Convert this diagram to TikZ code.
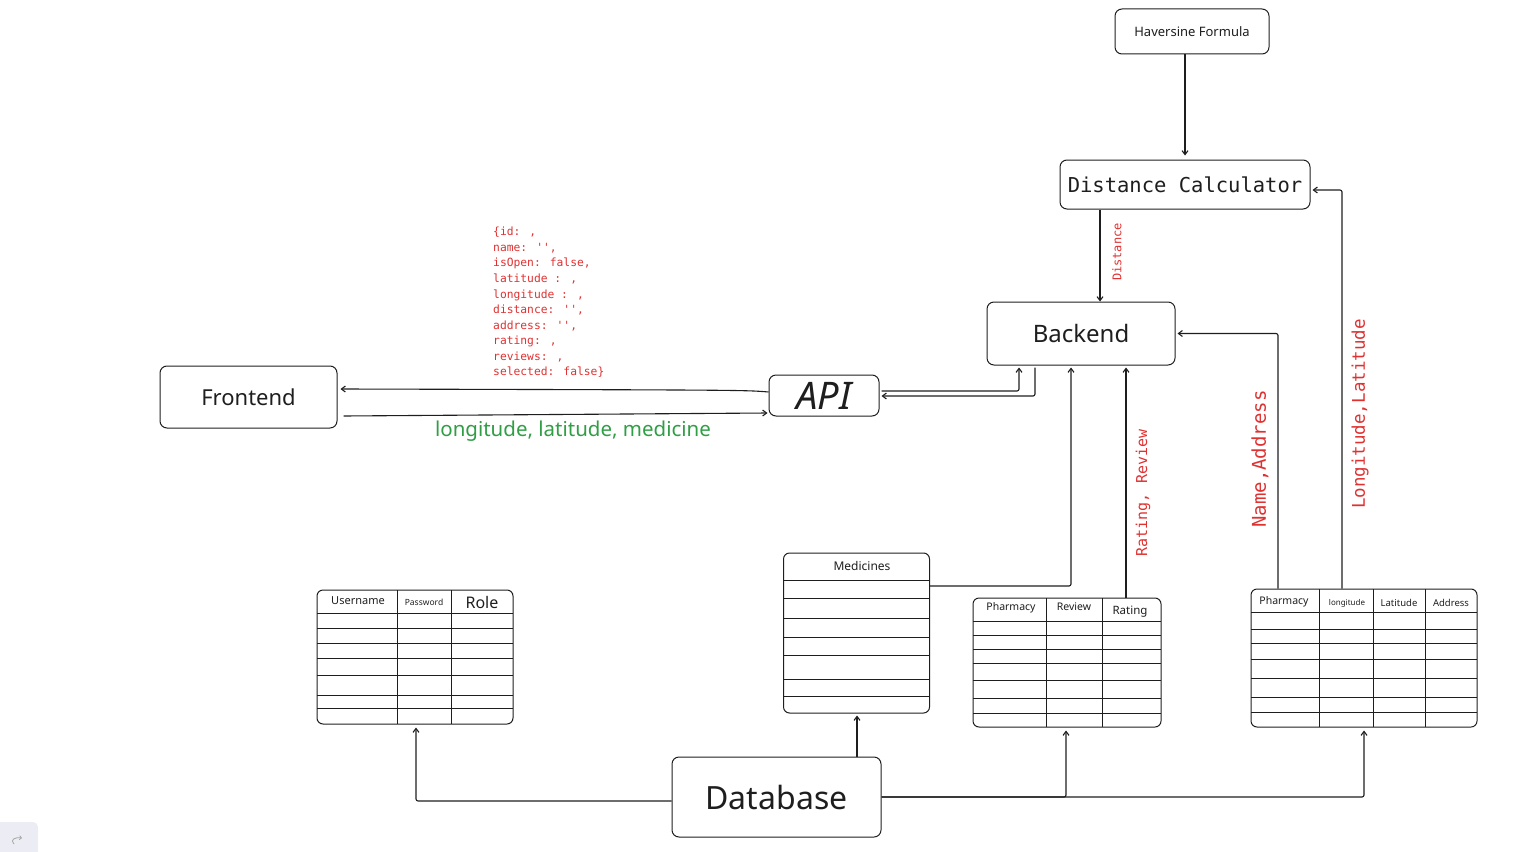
\documentclass[tikz,border=0pt]{standalone}
\usepackage{fontspec}
\setmainfont{Noto Sans}
\newfontfamily\monof{DejaVu Sans Mono}
\usetikzlibrary{arrows.meta}
\definecolor{ink}{HTML}{1E1E1E}
\definecolor{exred}{HTML}{E03131}
\definecolor{exgreen}{HTML}{2F9E44}
\definecolor{uigrey}{HTML}{ECECF4}
\tikzset{
  box/.style={draw=ink, rounded corners=7pt, line width=1pt, inner sep=0pt, text=ink},
  tbl/.style={draw=ink, rounded corners=6pt, line width=1pt, inner sep=0pt},
  conn/.style={draw=ink, line width=1.1pt, -{Straight Barb[length=4pt,width=6pt]}, rounded corners=2pt},
  gridl/.style={draw=ink, line width=0.8pt},
  hdr/.style={text=ink, inner sep=0pt},
  redlab/.style={text=exred, rotate=90, inner sep=0pt},
}
\newcommand{\fs}[1]{\fontsize{#1}{#1}\selectfont}
\begin{document}
\begin{tikzpicture}[x=1pt,y=-1pt]
\useasboundingbox (0,0) rectangle (1528,851);

% UI artefact bottom-left
\fill[uigrey, rounded corners=5pt] (-6,822) rectangle (38,858);
\draw[gray!70, line width=0.8pt, -{Straight Barb[length=2pt,width=4pt]}] (14,844) .. controls (10,840) and (14,837) .. (22,838);

% main boxes
\node[box, minimum width=154pt, minimum height=45pt, font=\fs{13}] (hav) at (1192,31.5) {Haversine Formula};
\node[box, minimum width=250pt, minimum height=49pt, font=\monof\fs{20.5}] (dist) at (1185,184.5) {Distance Calculator};
\node[box, minimum width=188pt, minimum height=63pt, font=\fs{24}] (back) at (1081,333.5) {Backend};
\node[box, minimum width=177pt, minimum height=62pt, font=\fs{22}] (front) at (248.5,397) {Frontend};
\node[box, minimum width=110pt, minimum height=41pt, font=\itshape\fs{38}] (api) at (824,395.5) {API};
\node[box, minimum width=209pt, minimum height=80pt, font=\fs{32}] (db) at (776.5,797) {Database};

% users table
\node[tbl, minimum width=196pt, minimum height=134pt] (users) at (415,657) {};
\foreach \y in {613,628,643,658,675,695,708} \draw[gridl] (317,\y) -- (513,\y);
\foreach \x in {397,451} \draw[gridl] (\x,590) -- (\x,724);
\node[hdr, font=\fs{11}] (uh1) at (358,601) {Username};
\node[hdr, font=\fs{8.5}] (uh2) at (424,602) {Password};
\node[hdr, font=\fs{16}] (uh3) at (482,602) {Role};

% medicines table
\node[tbl, minimum width=146pt, minimum height=160pt] (med) at (856.5,633) {};
\foreach \y in {580,598,618,637,655,679,696} \draw[gridl] (783.5,\y) -- (929.5,\y);
\node[hdr, font=\fs{12}] (mh) at (862,566) {Medicines};

% review table
\node[tbl, minimum width=188pt, minimum height=129pt] (rev) at (1067,662.5) {};
\foreach \y in {621,635,649,663,680,698,713} \draw[gridl] (973,\y) -- (1161,\y);
\foreach \x in {1046,1102} \draw[gridl] (\x,598) -- (\x,727);
\node[hdr, font=\fs{10.5}] (rh1) at (1011,608) {Pharmacy};
\node[hdr, font=\fs{10.5}] (rh2) at (1074,607) {Review};
\node[hdr, font=\fs{11.5}] (rh3) at (1130,612) {Rating};

% pharmacy table
\node[tbl, minimum width=226pt, minimum height=138pt] (pharm) at (1364,658) {};
\foreach \y in {612,629,643,659,678,697,712} \draw[gridl] (1251,\y) -- (1477,\y);
\foreach \x in {1319,1373,1425} \draw[gridl] (\x,589) -- (\x,727);
\node[hdr, font=\fs{10.5}] (ph1) at (1284,602) {Pharmacy};
\node[hdr, font=\fs{8}] (ph2) at (1347,603) {longitude};
\node[hdr, font=\fs{9.5}] (ph3) at (1399,603) {Latitude};
\node[hdr, font=\fs{9.5}] (ph4) at (1451,603) {Address};

% connectors
\draw[conn] (dist.north |- hav.south) -- ([yshift=4pt]dist.north);
\draw[conn] ([xshift=-85pt]dist.south) -- ([xshift=-85pt]dist.south |- back.north);
\draw[conn] ([yshift=3.5pt]api.west) .. controls (745,390) .. ([yshift=8pt,xshift=3pt]front.east);
\draw[conn] ([yshift=-19pt,xshift=6pt]front.east) -- ([yshift=-17.5pt,xshift=-1pt]api.west);
\draw[conn] ([yshift=4.5pt,xshift=2pt]api.east) -| ([xshift=-62pt,yshift=-2pt]back.south);
\draw[conn] ([xshift=-46pt,yshift=-2pt]back.south) |- ([yshift=-0.5pt,xshift=2pt]api.east);
\draw[conn] ([yshift=47pt]med.east) -| ([xshift=-10pt,yshift=-2pt]back.south);
\draw[conn] ([xshift=59pt]rev.north) -- ([xshift=45pt,yshift=-2pt]back.south);
\draw[conn] ([xshift=-86pt]pharm.north) |- ([xshift=2pt]back.east);
\draw[conn] ([xshift=-22pt]pharm.north) |- ([yshift=-5.5pt,xshift=2pt]dist.east);
\draw[conn] ([yshift=-4pt]db.west) -| ([xshift=1pt,yshift=-3pt]users.south);
\draw[conn] ([xshift=80.5pt]db.north) -- ([xshift=80.5pt,yshift=-2pt]db.north |- med.south);
\draw[conn] (db.east) -| ([xshift=-1pt,yshift=-3pt]rev.south);
\draw[conn] (db.east) -| ([yshift=-3pt]pharm.south);

% labels
\node[text=exgreen, font=\fs{20.5}, inner sep=0pt] (lbl) at (573,431) {longitude, latitude, medicine};
\node[text=exred, font=\monof\fontsize{11.3}{15.56}\selectfont, align=left, anchor=north west, inner sep=0pt] (json) at (493,227)
  {\{id: ,\\ name: '',\\ isOpen: false,\\ latitude : ,\\ longitude : ,\\ distance: '',\\ address: '',\\ rating: ,\\ reviews: ,\\ selected: false\}};
\node[redlab, font=\monof\fs{12}] (ldist) at (1117,252) {Distance};
\node[redlab, font=\monof\fs{15}] (lrr) at (1143,493) {Rating, Review};
\node[redlab, font=\monof\fs{19}] (lna) at (1260,459) {Name,Address};
\node[redlab, font=\monof\fs{17.5}] (lll) at (1360,414) {Longitude,Latitude};
\end{tikzpicture}
\end{document}
